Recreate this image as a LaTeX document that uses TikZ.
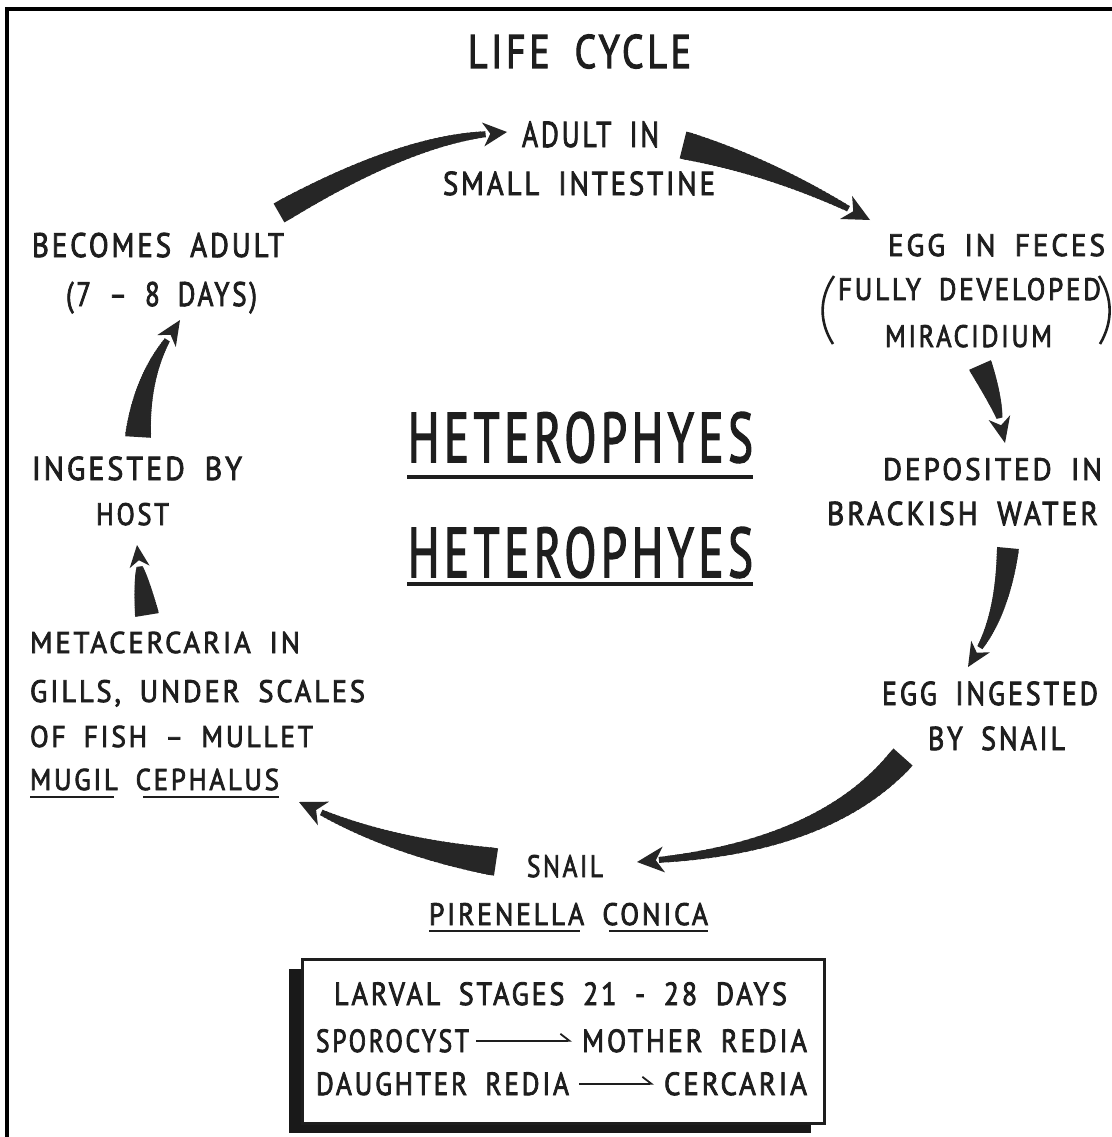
\documentclass[tikz,border=0pt]{standalone}
\usepackage{fontspec}
\setmainfont{PT Sans}[LetterSpace=10,WordSpace=1.8,FakeBold=2.6]
\usetikzlibrary{arrows.meta}
\definecolor{ink}{HTML}{1E1E1E}
\definecolor{arr}{HTML}{262626}
\tikzset{
  txt/.style={anchor=base west,inner sep=0pt,outer sep=0pt,text=ink},
  ul/.style={draw=ink,line width=2.6pt},
  thinarrow/.style={draw=ink,line width=1.8pt,-{Straight Barb[harpoon,length=9pt,width=14pt]}},
}
\newcommand\TXT[6]{\node[txt,font=\fontsize{#5}{#5}\selectfont] (#1) at (#2,#3) {\resizebox{#4pt}{\height}{#6}};}
\def\TPhw{11}
% tapered arrow: start (#1,#2), control (#3,#4), tip (#5,#6), start width #7, end width #8, head length #9
\newcommand\taper[9]{%
  \pgfmathsetmacro\TPdx{#5-(#3)}%
  \pgfmathsetmacro\TPdy{#6-(#4)}%
  \pgfmathsetmacro\TPl{veclen(\TPdx,\TPdy)}%
  \pgfmathsetmacro\TPux{\TPdx/\TPl}%
  \pgfmathsetmacro\TPuy{\TPdy/\TPl}%
  \pgfmathsetmacro\TPbx{#5-#9*\TPux}%
  \pgfmathsetmacro\TPby{#6-#9*\TPuy}%
  \foreach \TPi in {1,...,40}{%
    \pgfmathsetmacro\TPta{(\TPi-1)/40}%
    \pgfmathsetmacro\TPtb{(\TPi+0.6)/40}%
    \pgfmathsetmacro\TPxa{((1-\TPta)^2)*#1+2*(1-\TPta)*\TPta*#3+(\TPta^2)*\TPbx}%
    \pgfmathsetmacro\TPya{((1-\TPta)^2)*#2+2*(1-\TPta)*\TPta*#4+(\TPta^2)*\TPby}%
    \pgfmathsetmacro\TPxb{((1-\TPtb)^2)*#1+2*(1-\TPtb)*\TPtb*#3+(\TPtb^2)*\TPbx}%
    \pgfmathsetmacro\TPyb{((1-\TPtb)^2)*#2+2*(1-\TPtb)*\TPtb*#4+(\TPtb^2)*\TPby}%
    \pgfmathsetmacro\TPw{#7+(#8-#7)*(\TPta+\TPtb)/2}%
    \draw[arr,line width=\TPw pt,line cap=butt] (\TPxa,\TPya) -- (\TPxb,\TPyb);
  }%
  \fill[arr] (#5,#6) -- ({\TPbx-\TPhw*\TPuy},{\TPby+\TPhw*\TPux})
     -- ({\TPbx+0.3*#9*\TPux},{\TPby+0.3*#9*\TPuy})
     -- ({\TPbx+\TPhw*\TPuy},{\TPby-\TPhw*\TPux}) -- cycle;
}
\begin{document}
\begin{tikzpicture}[x=1pt,y=-1pt]
\useasboundingbox (0,0) rectangle (1111,1137);
\fill[white] (0,0) rectangle (1111,1137);
% frame (top and left only)
\draw[black,line width=3.5pt] (7,1140) -- (7,9) -- (1115,9);

% title
\TXT{title}{468}{68}{223}{47}{LIFE CYCLE}

% top
\TXT{adult1}{522}{147}{137}{36}{ADULT IN}
\TXT{adult2}{443}{195}{272}{33}{SMALL INTESTINE}

% right side
\TXT{egg1}{888}{256}{217}{31}{EGG IN FECES}
\TXT{egg2}{838}{300}{263}{31}{FULLY DEVELOPED}
\TXT{egg3}{885}{347}{167}{31}{MIRACIDIUM}
\draw[ink,line width=2.6pt] (834,276) .. controls (819,298) and (819,322) .. (833,344);
\draw[ink,line width=2.6pt] (1099,276) .. controls (1113,298) and (1113,322) .. (1100,344);
\TXT{dep1}{883}{480}{219}{31}{DEPOSITED IN}
\TXT{dep2}{827}{525}{271}{33}{BRACKISH WATER}
\TXT{ing1}{882}{705}{216}{33}{EGG INGESTED}
\TXT{ing2}{928}{750}{137}{33}{BY SNAIL}

% bottom
\TXT{snail1}{527}{877}{76}{31}{SNAIL}
\TXT{snail2}{429}{925}{279}{31}{PIRENELLA CONICA}
\draw[ul] (429,931) -- (580,931);
\draw[ul] (609,931) -- (708,931);

% left side
\TXT{meta1}{30}{653}{270}{30}{METACERCARIA IN}
\TXT{meta2}{30}{702}{335}{31}{GILLS, UNDER SCALES}
\TXT{meta3}{30}{747}{283}{30}{OF FISH – MULLET}
\TXT{meta4}{30}{790}{249}{30}{MUGIL CEPHALUS}
\draw[ul] (30,797) -- (114,797);
\draw[ul] (143,797) -- (279,797);
\TXT{host1}{32}{480}{210}{33}{INGESTED BY}
\TXT{host2}{96}{525}{73}{31}{HOST}
\TXT{bec1}{32}{257}{252}{34}{BECOMES ADULT}
\TXT{bec2}{66}{306}{191}{34}{(7 – 8 DAYS)}

% centre
\TXT{het1}{408}{462}{345}{70}{HETEROPHYES}
\TXT{het2}{408}{577}{345}{70}{HETEROPHYES}
\draw[ink,line width=3.8pt] (407,477) -- (753,477);
\draw[ink,line width=3.8pt] (407,584) -- (753,584);

% larval stages box
\fill[black!90] (289,969) rectangle (811,1133);
\node[draw=ink,fill=white,line width=2.6pt,minimum width=522pt,minimum height=164pt,anchor=north west,inner sep=0pt] (box) at (301,958) {};
\TXT{lar}{334}{1005}{453}{32}{LARVAL STAGES 21 - 28 DAYS}
\TXT{spor}{316}{1052}{153}{32}{SPOROCYST}
\TXT{moth}{582}{1052}{225}{32}{MOTHER REDIA}
\TXT{daug}{316}{1095}{253}{32}{DAUGHTER REDIA}
\TXT{cerc}{664}{1095}{143}{32}{CERCARIA}
\draw[thinarrow,shorten <=7pt,shorten >=10pt] (spor.east) -- (moth.west);
\draw[thinarrow,shorten <=10pt,shorten >=10pt] (daug.east) -- (cerc.west);

% tapered cycle arrows
\def\TPhw{12}
\taper{279}{213}{400}{143}{507}{132}{22}{6}{24}
\def\TPhw{13}
\taper{683}{145}{765}{165}{870}{220}{28}{6}{27}
\def\TPhw{11}
\taper{980}{365}{995}{398}{1005}{443}{24}{6}{26}
\taper{1008}{548}{1003}{610}{968}{667}{22}{6}{24}
\def\TPhw{13}
\taper{903}{757}{829}{844}{637}{862}{26}{6}{27}
\taper{496}{862}{397}{848}{299}{802}{28}{6}{27}
\def\TPhw{10}
\taper{147}{615}{141}{578}{137}{545}{24}{6}{22}
\def\TPhw{11}
\taper{138}{437}{141}{381}{180}{320}{26}{6}{25}
\end{tikzpicture}
\end{document}
